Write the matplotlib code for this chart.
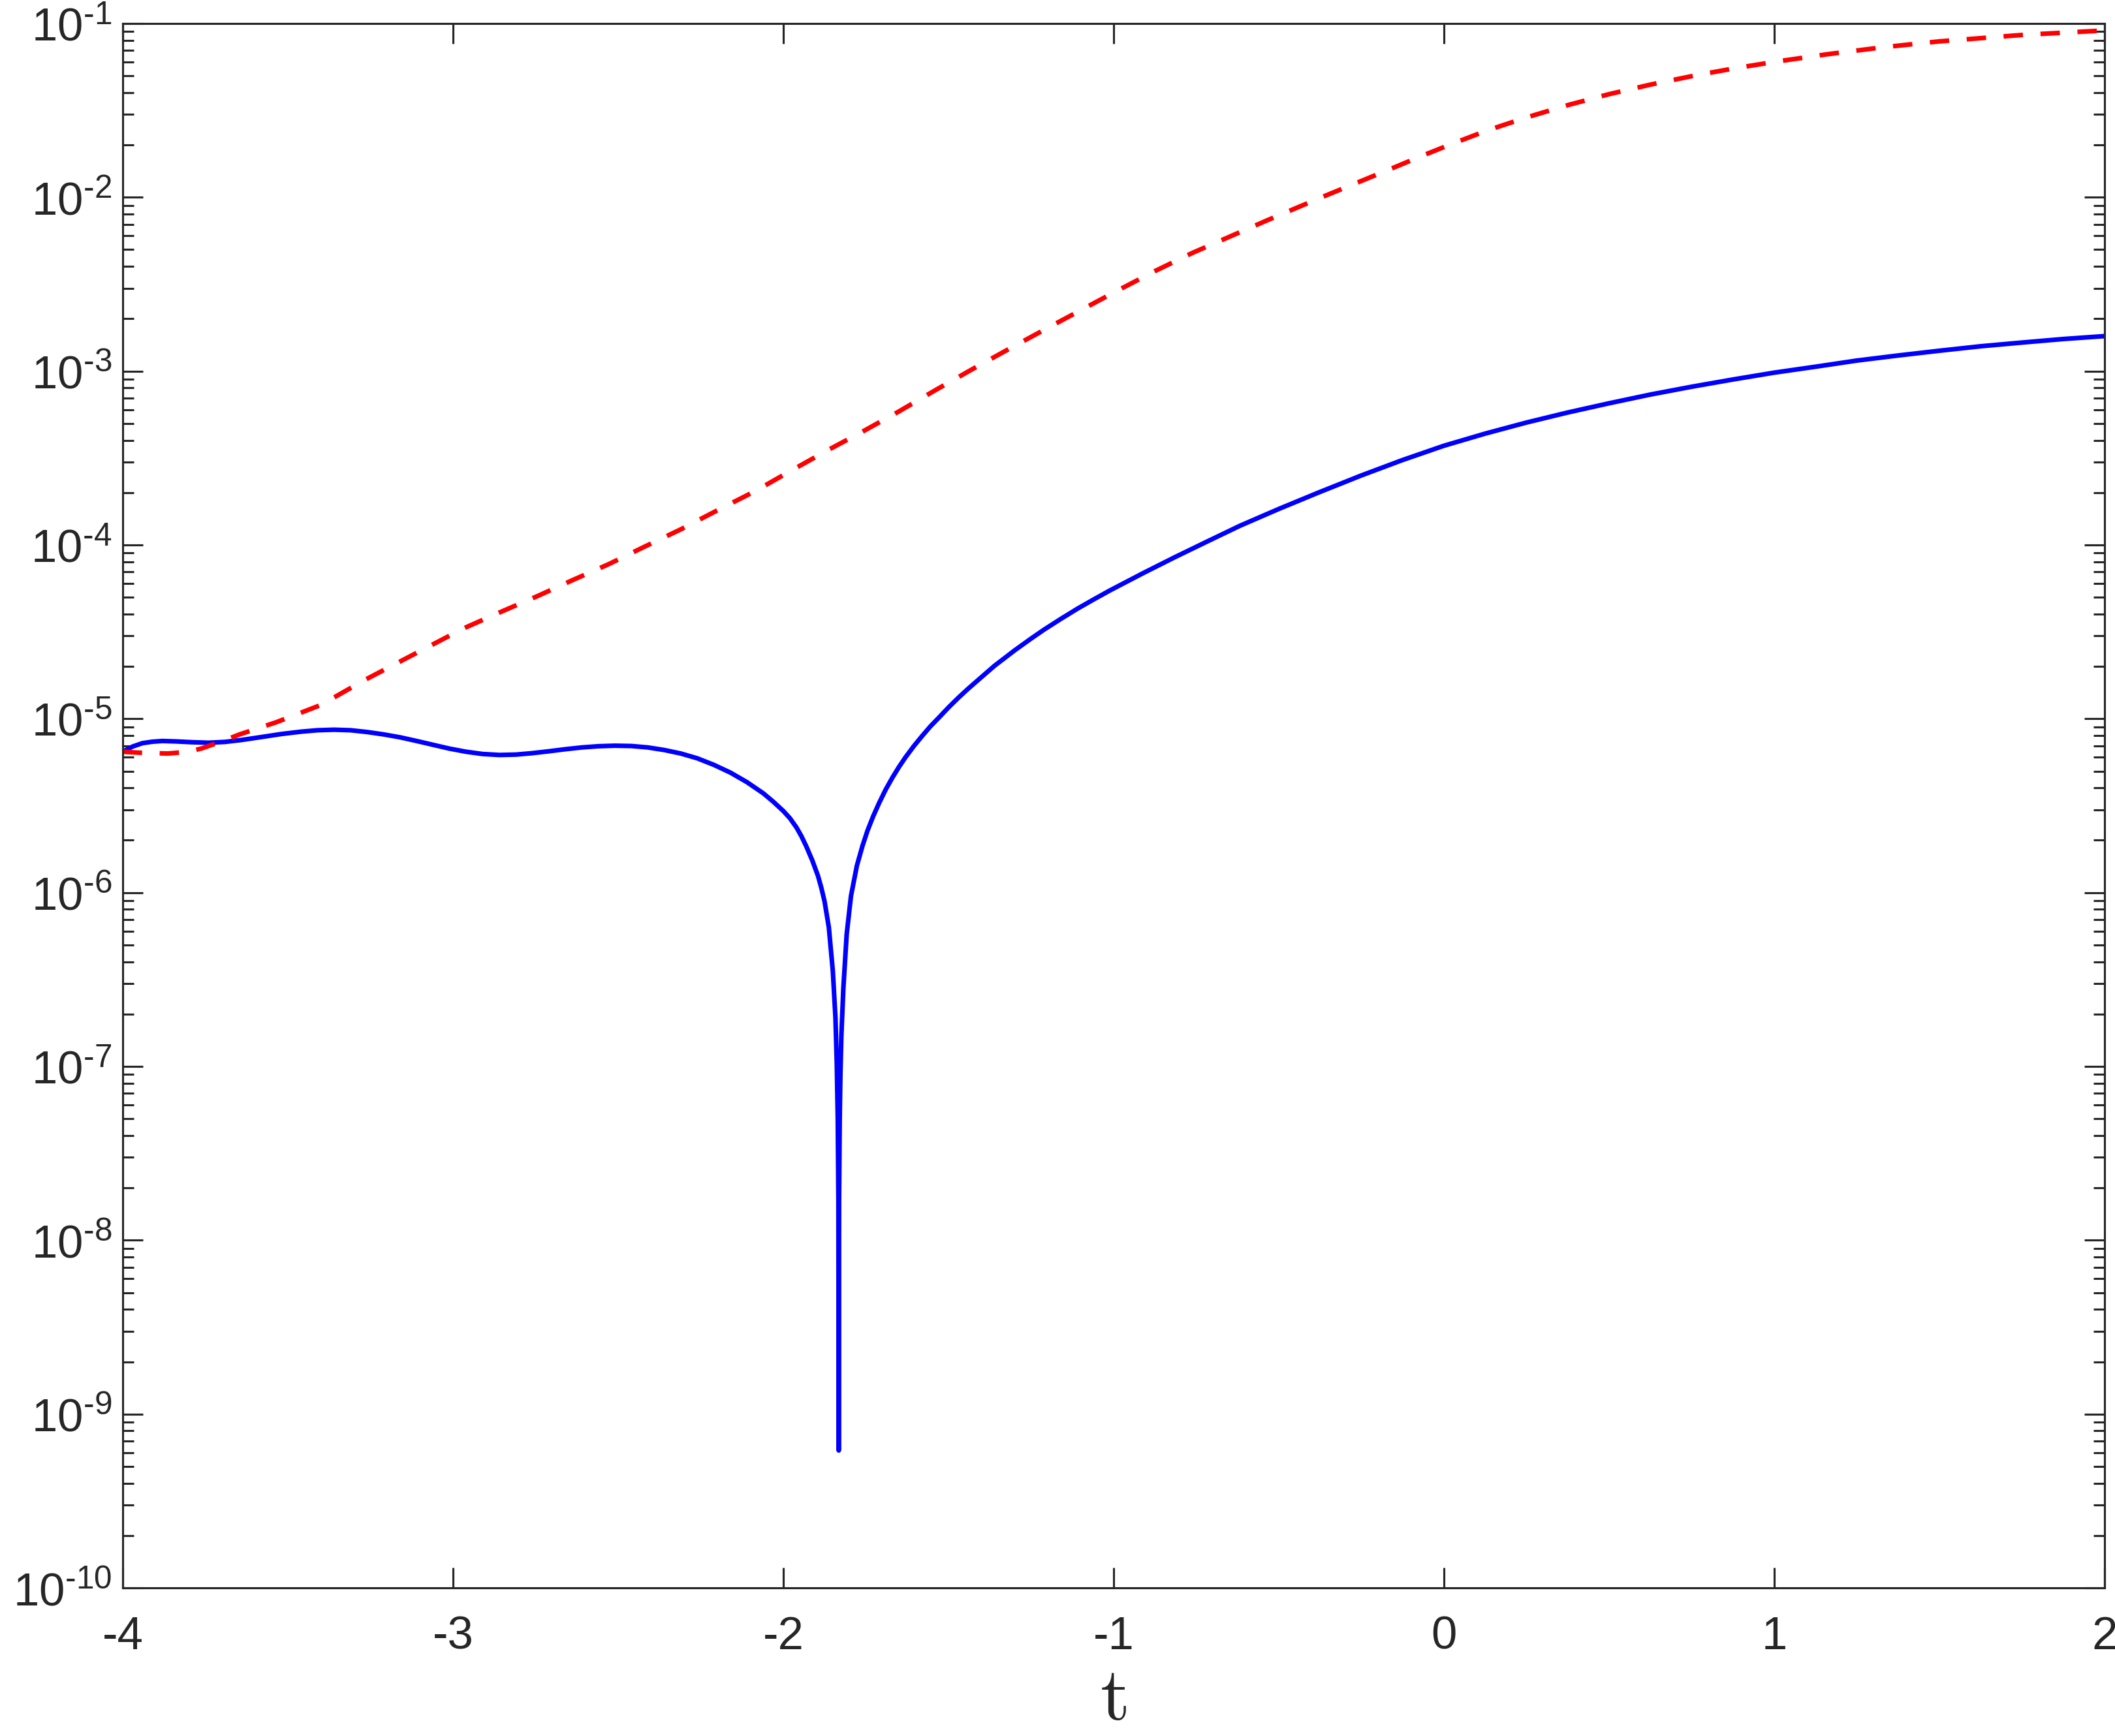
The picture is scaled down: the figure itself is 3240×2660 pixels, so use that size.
import numpy as np
import matplotlib
matplotlib.use('Agg')
import matplotlib.pyplot as plt
from matplotlib.ticker import FixedLocator, FuncFormatter, NullFormatter

plt.rcParams['font.family'] = ['Liberation Sans', 'DejaVu Sans']
plt.rcParams['mathtext.fontset'] = 'custom'
plt.rcParams['mathtext.rm'] = 'Liberation Sans'
plt.rcParams['mathtext.it'] = 'Liberation Sans'
plt.rcParams['axes.unicode_minus'] = False

AX_COLOR = '#262626'

# blue solid curve
t_blue = [-4.00, -3.97, -3.94, -3.91, -3.88, -3.84, -3.79, -3.74, -3.69, -3.64,
          -3.58, -3.52, -3.46, -3.41, -3.36, -3.31, -3.26, -3.21, -3.16, -3.11,
          -3.06, -3.01, -2.96, -2.91, -2.86, -2.81, -2.76, -2.71, -2.66, -2.61,
          -2.56, -2.51, -2.46, -2.41, -2.36, -2.31, -2.26, -2.21, -2.16, -2.11,
          -2.06, -2.03, -2.00, -1.98, -1.96, -1.945, -1.93, -1.912, -1.895, -1.885,
          -1.875, -1.862, -1.85, -1.842, -1.838, -1.835, -1.833, -1.832,
          -1.831, -1.829, -1.827, -1.824, -1.818, -1.808, -1.795, -1.777, -1.760,
          -1.745, -1.728, -1.710, -1.690, -1.670, -1.650, -1.630, -1.605, -1.580,
          -1.555, -1.530, -1.500, -1.470, -1.440, -1.407, -1.36, -1.30, -1.25,
          -1.21, -1.16, -1.11, -1.06, -1.012, -0.91, -0.814, -0.715, -0.617, -0.50,
          -0.38, -0.25, -0.125, 0.0, 0.125, 0.25, 0.375, 0.5, 0.625, 0.75,
          0.875, 1.0, 1.125, 1.25, 1.375, 1.5, 1.625, 1.75, 1.875, 2.0]
y_blue = [6.46e-6, 6.92e-6, 7.24e-6, 7.38e-6, 7.45e-6, 7.41e-6, 7.33e-6, 7.28e-6, 7.36e-6, 7.55e-6,
          7.85e-6, 8.17e-6, 8.43e-6, 8.59e-6, 8.65e-6, 8.59e-6, 8.39e-6, 8.13e-6, 7.82e-6, 7.45e-6,
          7.08e-6, 6.73e-6, 6.46e-6, 6.27e-6, 6.19e-6, 6.22e-6, 6.34e-6, 6.50e-6, 6.68e-6, 6.84e-6,
          6.95e-6, 7.00e-6, 6.97e-6, 6.84e-6, 6.61e-6, 6.31e-6, 5.92e-6, 5.43e-6, 4.90e-6, 4.32e-6,
          3.72e-6, 3.33e-6, 2.95e-6, 2.68e-6, 2.37e-6, 2.11e-6, 1.84e-6, 1.53e-6, 1.25e-6, 1.07e-6,
          8.91e-7, 6.31e-7, 3.55e-7, 1.91e-7, 1.05e-7, 5.01e-8, 1.66e-8, 6.17e-10,
          1.66e-8, 5.01e-8, 8.91e-8, 1.51e-7, 2.82e-7, 5.75e-7, 9.55e-7, 1.43e-6, 1.86e-6,
          2.27e-6, 2.74e-6, 3.27e-6, 3.91e-6, 4.57e-6, 5.27e-6, 6.00e-6, 6.95e-6, 7.94e-6,
          9.02e-6, 1.01e-5, 1.16e-5, 1.32e-5, 1.49e-5, 1.69e-5, 2.02e-5, 2.47e-5, 2.89e-5,
          3.26e-5, 3.75e-5, 4.29e-5, 4.86e-5, 5.46e-5, 6.89e-5, 8.51e-5, 1.05e-4, 1.29e-4, 1.61e-4,
          2.00e-4, 2.51e-4, 3.08e-4, 3.72e-4, 4.37e-4, 5.06e-4, 5.78e-4, 6.53e-4, 7.33e-4, 8.13e-4,
          8.95e-4, 9.80e-4, 1.06e-3, 1.15e-3, 1.23e-3, 1.31e-3, 1.39e-3, 1.46e-3, 1.53e-3, 1.59e-3]

# red dashed curve
t_red = [-4.00, -3.95, -3.864, -3.80, -3.76, -3.70, -3.646, -3.535, -3.40, -3.27,
         -3.12, -2.968, -2.855, -2.745, -2.635, -2.528, -2.42, -2.31, -2.20, -2.085,
         -1.974, -1.865, -1.757, -1.65, -1.54, -1.43, -1.314, -1.20, -1.09, -0.992,
         -0.875, -0.761, -0.65, -0.538, -0.445, -0.354, -0.255, -0.156, -0.07, 0.016,
         0.13, 0.25, 0.375, 0.5, 0.63, 0.767, 0.88, 1.0, 1.16, 1.33,
         1.5, 1.75, 2.0]
y_red = [6.46e-6, 6.38e-6, 6.31e-6, 6.46e-6, 6.76e-6, 7.41e-6, 8.13e-6, 9.55e-6, 1.20e-5, 1.66e-5,
         2.34e-5, 3.31e-5, 4.12e-5, 5.07e-5, 6.31e-5, 7.76e-5, 9.77e-5, 1.23e-4, 1.58e-4, 2.04e-4,
         2.69e-4, 3.51e-4, 4.52e-4, 5.86e-4, 7.76e-4, 1.02e-3, 1.35e-3, 1.77e-3, 2.29e-3, 2.88e-3,
         3.76e-3, 4.79e-3, 5.92e-3, 7.33e-3, 8.71e-3, 1.03e-2, 1.23e-2, 1.47e-2, 1.72e-2, 2.00e-2,
         2.42e-2, 2.88e-2, 3.39e-2, 3.92e-2, 4.47e-2, 5.05e-2, 5.52e-2, 6.01e-2, 6.65e-2, 7.30e-2,
         7.89e-2, 8.59e-2, 9.12e-2]

x_ticks = [-4, -3, -2, -1, 0, 1, 2]
y_decades = [-10, -9, -8, -7, -6, -5, -4, -3, -2, -1]

fig = plt.figure(figsize=(10.8, 8.87), dpi=300)
ax = fig.add_axes([0.058, 0.0853, 0.937, 0.9008])

ax.plot(t_blue, y_blue, color=(0, 0, 1), lw=1.7, solid_joinstyle='round')
ax.plot(t_red, y_red, color=(1, 0, 0), lw=1.7, dashes=(4.2, 3.8))

ax.set_yscale('log')
ax.set_xlim(-4, 2)
ax.set_ylim(1e-10, 1e-1)

ax.xaxis.set_major_locator(FixedLocator(x_ticks))
ax.xaxis.set_major_formatter(FuncFormatter(lambda v, p: '%d' % v))
ax.yaxis.set_major_locator(FixedLocator([10.0 ** d for d in y_decades]))
ax.yaxis.set_major_formatter(FuncFormatter(
    lambda v, p: r'$10^{\text{-%d}}$' % round(-np.log10(v))))
minors = [m * 10.0 ** d for d in y_decades[:-1] for m in range(2, 10)]
ax.yaxis.set_minor_locator(FixedLocator(minors))
ax.yaxis.set_minor_formatter(NullFormatter())

ax.tick_params(which='both', direction='in', top=True, right=True,
               color=AX_COLOR, width=0.75, labelcolor=AX_COLOR, labelsize=17)
ax.tick_params(which='major', length=7.5)
ax.tick_params(which='minor', length=4)
ax.tick_params(axis='x', pad=10)
ax.tick_params(axis='y', pad=4)
for s in ax.spines.values():
    s.set_color(AX_COLOR)
    s.set_linewidth(0.75)

ax.set_xlabel(r'$\mathrm{t}$', fontsize=28, math_fontfamily='cm', color=AX_COLOR)
ax.xaxis.set_label_coords(0.5, -0.071)
ax.xaxis.label.set_va('center')

fig.savefig('out.png', dpi=300)
